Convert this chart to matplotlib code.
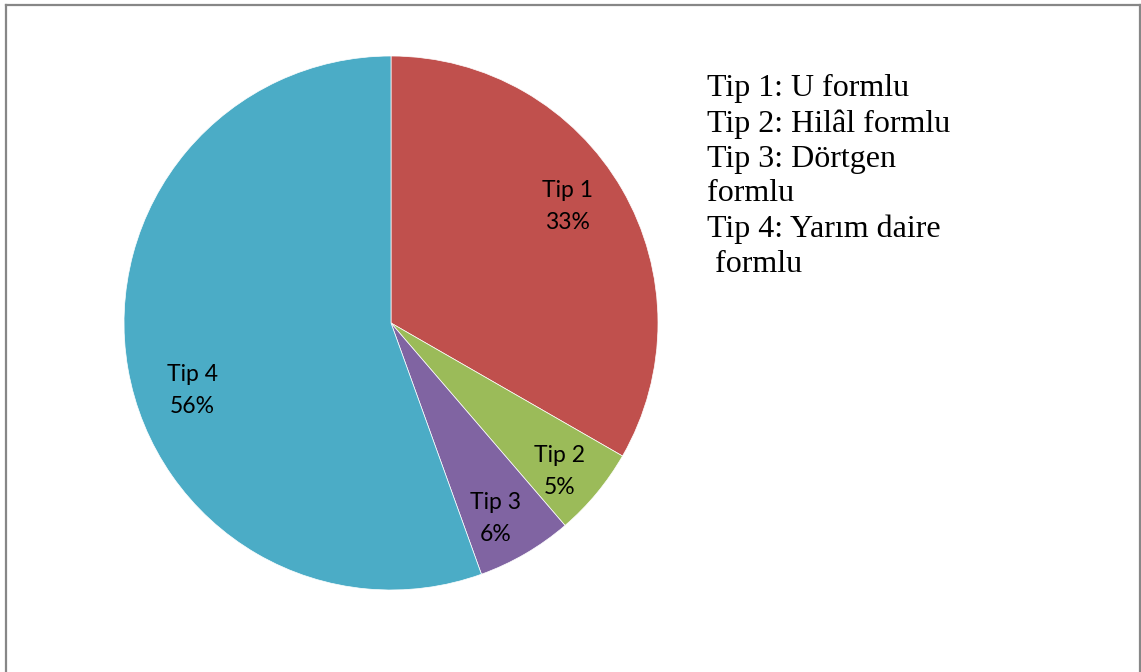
import matplotlib.pyplot as plt
from matplotlib.lines import Line2D

names = ['Tip 1', 'Tip 2', 'Tip 3', 'Tip 4']
shares = [33.3, 5.4, 5.8, 55.5]
colors = ['#C0504D', '#9BBB59', '#8064A2', '#4BACC6']
legend_lines = ['Tip 1: U formlu', 'Tip 2: Hilâl formlu', 'Tip 3: Dörtgen',
                'formlu', 'Tip 4: Yarım daire', ' formlu']

W, H = 1141, 672
fig = plt.figure(figsize=(W / 100, H / 100), dpi=100)

# pie centred at (391, 323) px, radius 267 px
cx, cy, r = 391, 323, 267
ax = fig.add_axes([(cx - r) / W, (H - cy - r) / H, 2 * r / W, 2 * r / H])
labels = [f'{n}\n{v:.0f}%' for n, v in zip(names, shares)]
wedges, texts = ax.pie(shares, labels=labels, colors=colors, startangle=90,
                       counterclock=False, labeldistance=0.79,
                       wedgeprops=dict(linewidth=0.5, edgecolor='white'),
                       textprops=dict(fontsize=16.5, family='Lato'))
# small nudges (px) so labels sit where Excel put them
nudges = [(-6, 11), (6, -14), (-2, -13), (9, -31)]
for t, (dx, dy) in zip(texts, nudges):
    x, y = t.get_position()
    t.set_position((x + dx / r, y + dy / r))
    t.set_ha('center')
    t.set_va('center')
    t.set_linespacing(1.65)
ax.set_xlim(-1, 1)
ax.set_ylim(-1, 1)

fig.text(707 / W, 1 - 74 / H, '\n'.join(legend_lines), ha='left', va='top',
         fontsize=23, family='Liberation Serif', linespacing=1.27)

# frame around the chart (bottom edge is cut off)
bc = '#878787'
fig.add_artist(Line2D([5.5 / W, 1139.5 / W], [1 - 4.5 / H, 1 - 4.5 / H],
                      color=bc, lw=1.6, transform=fig.transFigure))
fig.add_artist(Line2D([5.5 / W, 5.5 / W], [0, 1 - 4.5 / H],
                      color=bc, lw=1.6, transform=fig.transFigure))
fig.add_artist(Line2D([1139.5 / W, 1139.5 / W], [0, 1 - 4.5 / H],
                      color=bc, lw=1.6, transform=fig.transFigure))

fig.savefig('out.png', dpi=100)
